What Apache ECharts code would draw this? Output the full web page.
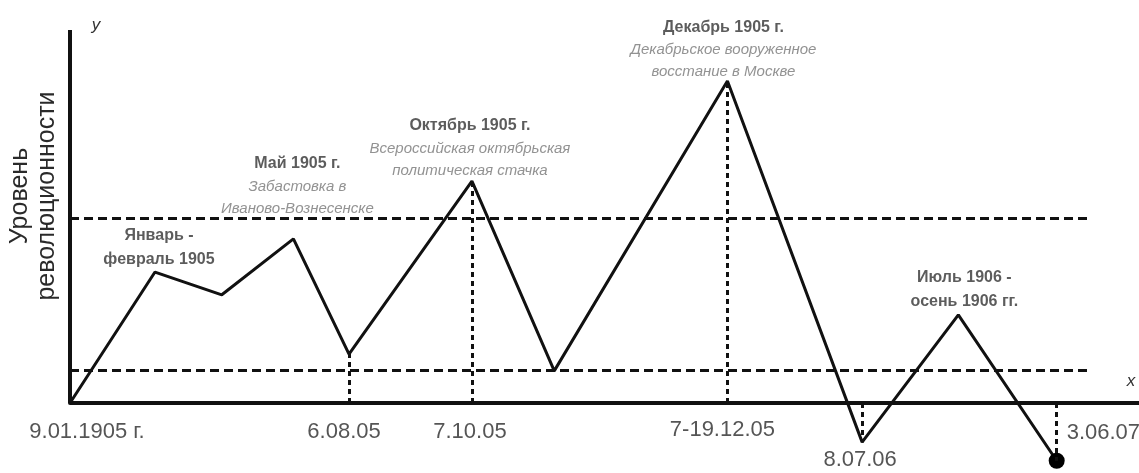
<!DOCTYPE html>
<html>
<head>
<meta charset="utf-8">
<script src="https://cdn.jsdelivr.net/npm/echarts@6/dist/echarts.min.js"></script>
<style>
html,body{margin:0;padding:0;background:#fff;}
#chart{width:1139px;height:473px;}
</style>
</head>
<body>
<div id="chart"></div>
<script>
// ---- data ----
const xPos = [0, 7.95, 14.2, 20.9, 26.1, 37.6, 45.3, 61.5, 74.1, 83.1, 92.3];
const level = [0, 35.1, 29.0, 44.0, 13.1, 59.5, 8.6, 86.3, -10.5, 23.6, -15.5];
const thresholds = [49.6, 8.8];
const thresholdEnd = 95.2;
const dropIdx = [4, 5, 7, 8, 10];
const dateIdx = [0, 4, 5, 7, 8, 10];
const dateLabels = ['9.01.1905 г.', '6.08.05', '7.10.05', '7-19.12.05', '8.07.06', '3.06.07'];
const eventIdx = [1, 3, 5, 7, 9];
const eventTitles = ['Январь -\nфевраль 1905', 'Май 1905 г.', 'Октябрь 1905 г.', 'Декабрь 1905 г.', 'Июль 1906 -\nосень 1906 гг.'];
const eventNotes = ['', 'Забастовка в\nИваново-Вознесенске', 'Всероссийская октябрьская\nполитическая стачка', 'Декабрьское вооруженное\nвосстание в Москве', ''];
const axisTitle = ['Уровень', 'революционности'];
const axisNames = { x: 'x', y: 'y' };

// ---- styles ----
const FONT = "'Liberation Sans', Arial, sans-serif";
const dateOffsets = [[17, 29], [-5, 29], [-2, 29], [-5, 27], [-2, 57], [10, 30]];
const dateAlign = ['center', 'center', 'center', 'center', 'center', 'left'];
const eventOffsets = [[4, -24], [4, -53], [-2, -33], [-4, -32], [6, -25]];

const chart = echarts.init(document.getElementById('chart'));

const linePoints = xPos.map((x, i) => {
  const item = { value: [x, level[i]] };
  if (i === xPos.length - 1) {
    item.symbol = 'circle';
    item.symbolSize = 16;
    item.itemStyle = { color: '#000' };
  }
  return item;
});

const dateData = dateIdx.map((idx, k) => ({
  value: [xPos[idx], 0],
  label: {
    show: true,
    position: 'inside',
    offset: dateOffsets[k],
    align: dateAlign[k],
    verticalAlign: 'middle',
    formatter: dateLabels[k],
    fontSize: 22,
    fontFamily: FONT,
    color: '#2a2a2a'
  }
}));

const eventData = eventIdx.map((idx, k) => {
  const lines = eventTitles[k].split('\n').map(s => '{t|' + s + '}');
  if (eventNotes[k]) eventNotes[k].split('\n').forEach(s => lines.push('{n|' + s + '}'));
  return {
    value: [xPos[idx], level[idx]],
    label: {
      show: true,
      position: 'inside',
      offset: eventOffsets[k],
      align: 'center',
      verticalAlign: 'middle',
      formatter: lines.join('\n'),
      rich: {
        t: { fontSize: 16, fontWeight: 'bold', fontFamily: FONT, color: '#333', lineHeight: 24, align: 'center' },
        n: { fontSize: 15, fontStyle: 'italic', fontFamily: FONT, color: '#777', lineHeight: 22, align: 'center' }
      }
    }
  };
});

const option = {
  backgroundColor: '#fff',
  animation: false,
  grid: { left: 70, right: 0, top: 30, bottom: 2.9, containLabel: false },
  xAxis: {
    type: 'value', min: 0, max: 100,
    axisLine: { show: true, onZero: true, lineStyle: { color: '#111', width: 4 } },
    axisTick: { show: false }, axisLabel: { show: false }, splitLine: { show: false }
  },
  yAxis: {
    type: 'value', min: -18, max: 100,
    axisLine: { show: false }, axisTick: { show: false }, axisLabel: { show: false }, splitLine: { show: false }
  },
  graphic: [
    {
      type: 'text', x: 33.5, y: 196, rotation: Math.PI / 2,
      style: { text: axisTitle.join('\n'), x: 0, y: 0, align: 'center', verticalAlign: 'middle',
        font: '25px ' + FONT, lineHeight: 27, fill: '#2a2a2a' }
    },
    { type: 'text', x: 96, y: 25, style: { text: axisNames.y, align: 'center', verticalAlign: 'middle', font: 'italic 17px ' + FONT, fill: '#333' } },
    { type: 'text', x: 1131, y: 381, style: { text: axisNames.x, align: 'center', verticalAlign: 'middle', font: 'italic 17px ' + FONT, fill: '#333' } }
  ],
  series: [
    {
      name: 'guides', type: 'line', data: [], silent: true,
      markLine: {
        silent: true, symbol: ['none', 'none'], label: { show: false },
        lineStyle: { color: '#111', width: 3, type: [9, 5] },
        emphasis: { disabled: true },
        data: thresholds.map(t => [{ coord: [0, t] }, { coord: [thresholdEnd, t] }])
          .concat(dropIdx.map(i => [{ coord: [xPos[i], 0], lineStyle: { type: [5, 4] } }, { coord: [xPos[i], level[i]] }]))
      }
    },
    {
      name: 'yaxis', type: 'line', data: [], silent: true,
      markLine: {
        silent: true, symbol: ['none', 'none'], label: { show: false },
        lineStyle: { color: '#111', width: 4, type: 'solid' },
        emphasis: { disabled: true },
        data: [[{ coord: [0, 0] }, { coord: [0, 100] }]]
      }
    },
    {
      name: 'level', type: 'line', data: linePoints, symbol: 'none', silent: true,
      lineStyle: { color: '#111', width: 3 }, itemStyle: { color: '#000' }
    },
    { name: 'dates', type: 'scatter', data: dateData, symbolSize: 0, silent: true },
    { name: 'events', type: 'scatter', data: eventData, symbolSize: 0, silent: true }
  ]
};
chart.setOption(option);
</script>
</body>
</html>
